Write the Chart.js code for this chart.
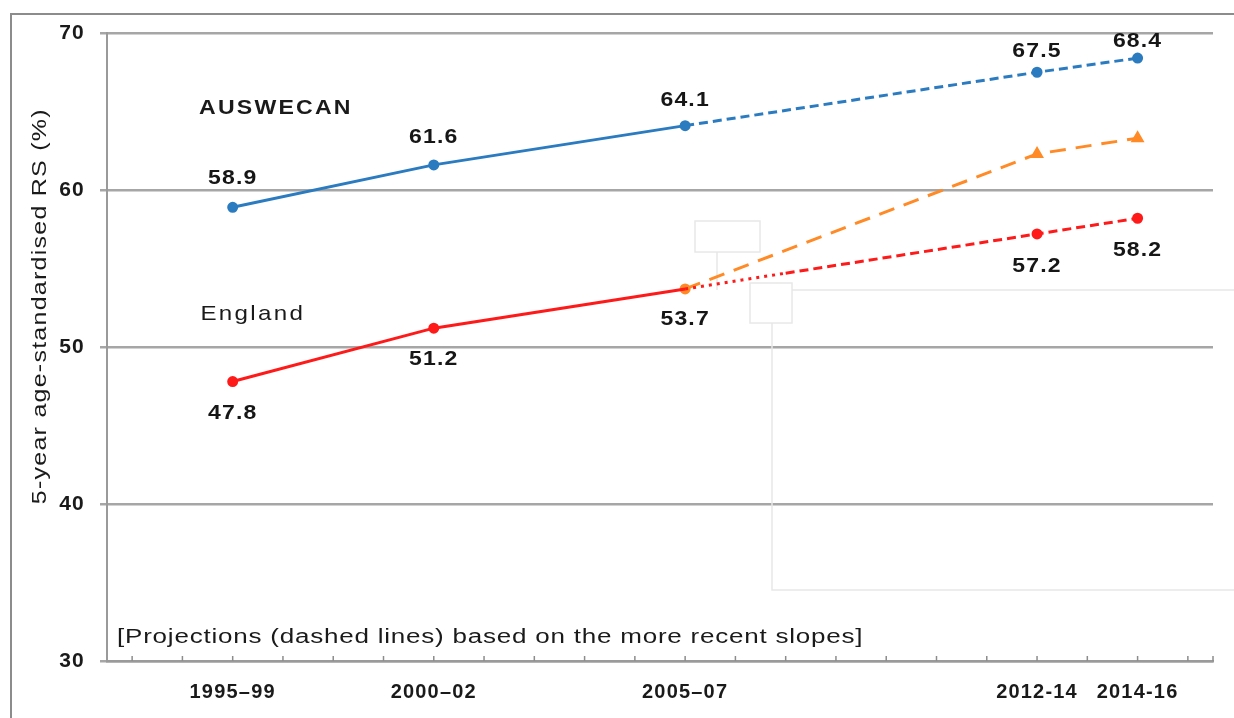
<!DOCTYPE html>
<html>
<head>
<meta charset="utf-8">
<script src="https://cdn.jsdelivr.net/npm/chart.js@4"></script>
<style>
  html, body { margin: 0; padding: 0; background: #fff; }
  canvas { display: block; }
</style>
</head>
<body>
<canvas id="rsChart" width="1234" height="718"></canvas>
<script>
// survival chart: observed vs projected

const years = [1997, 2001, 2006, 2013, 2015];
const periodLabels = ['1995–99', '2000–02', '2005–07', '2012-14', '2014-16'];

const observedYears = [1997, 2001, 2006];
const auswecanObserved = [58.9, 61.6, 64.1];
const englandObserved = [47.8, 51.2, 53.7];

const projectedYears = [2006, 2013, 2015];
const auswecanProjected = [64.1, 67.5, 68.4];
const englandAltProjected = [53.7, 62.3, 63.3];

const englandProjYears = [2006, 2008, 2013, 2015];
const englandProjected = [53.7, 54.7, 57.2, 58.2];

const yTicks = [30, 40, 50, 60, 70];

const BLUE = '#2b7bc0';
const RED = '#ff1a1a';
const ORANGE = '#ff8a26';
const FONT = '"Liberation Sans", Arial, sans-serif';

const pts = (xs, ys) => xs.map((x, i) => ({ x: x, y: ys[i] }));

Chart.defaults.font.family = FONT;

// text drawn a little wider, like the source picture
function wideText(c, text, x, y, sx, align) {
  c.save();
  c.translate(x, y);
  c.scale(sx, 1);
  c.textAlign = align || 'center';
  c.fillText(text, 0, 0);
  c.restore();
}

const frame = {
  id: 'frame',
  beforeDraw(chart) {
    const c = chart.ctx;
    c.letterSpacing = '1.2px';
    c.save();
    c.strokeStyle = '#8c8c8c';
    c.lineWidth = 2;
    c.strokeRect(11, 14, 1400, 900);
    c.restore();
  },
  beforeDatasetsDraw(chart) {
    // faint leftover boxes in the source image
    const c = chart.ctx;
    c.save();
    c.strokeStyle = '#e8e8e8';
    c.lineWidth = 1.5;
    c.strokeRect(695, 221, 65, 31);
    c.strokeRect(750, 283, 42, 40);
    c.beginPath();
    c.moveTo(717, 252); c.lineTo(717, 290);
    c.moveTo(792, 290); c.lineTo(1234, 290);
    c.moveTo(772, 323); c.lineTo(772, 590); c.lineTo(1234, 590);
    c.stroke();
    c.restore();
  },
  afterDraw(chart) {
    const c = chart.ctx;
    const xs = chart.scales.x, ys = chart.scales.y;
    // small upward ticks on the x axis
    c.save();
    c.strokeStyle = '#8c8c8c';
    c.lineWidth = 1.5;
    xs.ticks.forEach(t => {
      const px = xs.getPixelForValue(t.value);
      c.beginPath();
      c.moveTo(px, ys.bottom);
      c.lineTo(px, ys.bottom - 5);
      c.stroke();
    });
    c.restore();

    // y title
    c.save();
    c.fillStyle = '#1a1a1a';
    c.font = '20px ' + FONT;
    c.letterSpacing = '1px';
    c.textBaseline = 'middle';
    c.translate(40, ys.getPixelForValue(52.6));
    c.rotate(-Math.PI / 2);
    wideText(c, '5-year age-standardised RS (%)', 0, 0, 1.25);
    c.restore();

    // series names and note
    c.save();
    c.fillStyle = '#1a1a1a';
    c.textBaseline = 'middle';
    c.letterSpacing = '2px';
    c.font = 'bold 21px ' + FONT;
    wideText(c, 'AUSWECAN', xs.getPixelForValue(1997.86), ys.getPixelForValue(65.2), 1.1);
    c.font = '21px ' + FONT;
    wideText(c, 'England', xs.getPixelForValue(1997.4), ys.getPixelForValue(52.1), 1.15);
    c.letterSpacing = '0.6px';
    c.font = '20px ' + FONT;
    wideText(c, '[Projections (dashed lines) based on the more recent slopes]',
      xs.getPixelForValue(1994.7), ys.getPixelForValue(31.5), 1.3, 'left');
    c.restore();
  }
};

const valueLabels = {
  id: 'valueLabels',
  afterDatasetsDraw(chart) {
    const c = chart.ctx;
    c.save();
    c.fillStyle = '#161616';
    c.font = 'bold 20px ' + FONT;
    c.letterSpacing = '1px';
    c.textBaseline = 'middle';
    chart.data.datasets.forEach((ds, di) => {
      if (!ds.showLabel) return;
      const meta = chart.getDatasetMeta(di);
      meta.data.forEach((el, i) => {
        if (!ds.showLabel[i]) return;
        wideText(c, ds.data[i].y.toFixed(1), el.x, el.y + ds.labelOffset[i], 1.15);
      });
    });
    c.restore();
  }
};

new Chart(document.getElementById('rsChart'), {
  type: 'line',
  data: {
    datasets: [
      {
        label: 'AUSWECAN',
        data: pts(observedYears, auswecanObserved),
        borderColor: BLUE,
        backgroundColor: BLUE,
        borderWidth: 3,
        pointRadius: 4,
        showLabel: [true, true, true],
        labelOffset: [-29, -27, -25]
      },
      {
        label: 'AUSWECAN projected',
        data: pts(projectedYears, auswecanProjected),
        borderColor: BLUE,
        backgroundColor: BLUE,
        borderWidth: 3,
        borderDash: [9, 5],
        pointRadius: [0, 4, 4],
        showLabel: [false, true, true],
        labelOffset: [0, -21, -17]
      },
      {
        label: 'England',
        data: pts(observedYears, englandObserved),
        borderColor: RED,
        backgroundColor: RED,
        borderWidth: 3,
        pointRadius: [4, 4, 0],
        showLabel: [true, true, true],
        labelOffset: [32, 31, 31]
      },
      {
        label: 'England projected',
        data: pts(englandProjYears, englandProjected),
        borderColor: RED,
        backgroundColor: RED,
        borderWidth: 3,
        borderDash: [9, 5],
        segment: {
          borderDash: ctx => ctx.p0DataIndex === 0 ? [3, 5] : [9, 5]
        },
        pointRadius: [0, 0, 4, 4],
        showLabel: [false, false, true, true],
        labelOffset: [0, 0, 33, 32]
      },
      {
        label: 'England alt projected',
        data: pts(projectedYears, englandAltProjected),
        borderColor: ORANGE,
        backgroundColor: ORANGE,
        borderWidth: 3,
        borderDash: [16, 10],
        pointStyle: ['circle', 'triangle', 'triangle'],
        pointRadius: [4, 5, 5]
      }
    ]
  },
  options: {
    responsive: false,
    animation: false,
    events: [],
    layout: { padding: { top: 33, right: 21, left: 0, bottom: 0 } },
    plugins: {
      legend: { display: false },
      tooltip: { enabled: false }
    },
    scales: {
      x: {
        type: 'linear',
        min: 1994.5,
        max: 2016.5,
        afterFit: s => { s.height = 57; },
        afterBuildTicks: s => {
          const t = [];
          for (let v = Math.ceil(s.min); v <= s.max; v++) t.push({ value: v });
          t.push({ value: s.max });
          s.ticks = t;
        },
        grid: { drawOnChartArea: false, drawTicks: false },
        border: { color: '#9a9a9a', width: 2.5 },
        ticks: {
          autoSkip: false,
          maxRotation: 0,
          padding: 19,
          color: '#1a1a1a',
          font: { size: 20, weight: 'bold' },
          callback: v => {
            const i = years.indexOf(v);
            return i >= 0 ? periodLabels[i] : '';
          }
        }
      },
      y: {
        min: yTicks[0],
        max: yTicks[yTicks.length - 1],
        afterFit: s => { s.width = 107; },
        afterBuildTicks: s => { s.ticks = yTicks.map(v => ({ value: v })); },
        grid: { color: '#a6a6a6', lineWidth: 2.5, tickLength: 7 },
        border: { color: '#9a9a9a', width: 2 },
        ticks: {
          padding: 15,
          color: '#1a1a1a',
          font: { size: 21, weight: 'bold' }
        }
      }
    }
  },
  plugins: [frame, valueLabels]
});
</script>
</body>
</html>
